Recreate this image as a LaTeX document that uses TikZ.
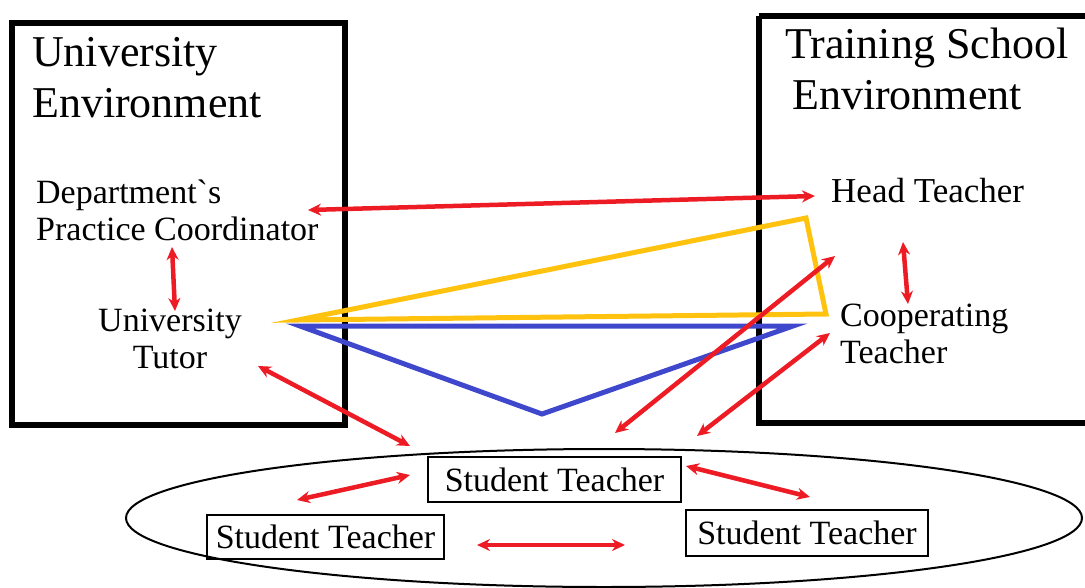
\documentclass[tikz,border=0pt]{standalone}
\usepackage{fontspec}
\setmainfont{Liberation Serif}
\newfontfamily\plainserif[Ligatures=TeXOff]{Liberation Serif}
\usetikzlibrary{arrows.meta}
\definecolor{arrred}{RGB}{237,28,36}
\definecolor{triyel}{RGB}{255,194,14}
\definecolor{triblu}{RGB}{63,72,204}
\begin{document}
\begin{tikzpicture}[x=1pt,y=-1pt,
  envbox/.style={draw=black,line width=6pt},
  bigtxt/.style={anchor=base west,align=left,inner sep=0pt,font=\fontsize{44}{51}\selectfont},
  roletxt/.style={inner sep=0pt,font=\fontsize{34}{37}\selectfont},
  stbox/.style={draw=black,line width=2pt,inner sep=0pt,font=\fontsize{34}{38}\selectfont},
  link/.style={draw=arrred,line width=4.5pt,{Stealth[length=13pt,width=12pt]}-{Stealth[length=13pt,width=12pt]}},
  tri/.style={line width=5pt,line join=miter,miter limit=40}]
\useasboundingbox (0,0) rectangle (1085,587);
% environment boxes
\draw[envbox] (12,23) rectangle (345,425);
\draw[envbox] (759,16) -- (1095,16) (759,16) -- (759,423) -- (1095,423);
\node[bigtxt] (uenv) at (32,117) {University\\Environment};
\node[bigtxt] (tenv) at (785,109) {Training School\\\hspace*{7pt}Environment};
% roles
\node[roletxt,anchor=base west,align=left] (dpc) at (36,240) {{\plainserif Department`s}\\Practice Coordinator};
\node[roletxt,anchor=base,align=center] (ut) at (170,368) {University\\Tutor};
\node[roletxt,anchor=base west,font=\fontsize{35}{40}\selectfont] (ht) at (831,202) {Head Teacher};
\node[roletxt,anchor=base west,align=left] (ct) at (840,363) {Cooperating\\Teacher};
% triangles
\draw[tri,triyel] (298,320) -- (806,218) -- (826,314) -- cycle;
\draw[tri,triblu] (300,326) -- (793,326) -- (542,414) -- cycle;
% ellipse and students
\draw[line width=2pt] (604,518) ellipse [x radius=478, y radius=69];
\node[stbox,minimum width=253pt,minimum height=45pt] (st1) at (554.5,479.5) {Student Teacher};
\node[stbox,minimum width=237pt,minimum height=44pt] (st2) at (325.5,537) {Student Teacher};
\node[stbox,minimum width=242pt,minimum height=46pt] (st3) at (807,533) {Student Teacher};
% arrow end points
\coordinate (a1s) at (308,210); \coordinate (a1e) at (815,196);
\coordinate (a2s) at (172,247); \coordinate (a2e) at (175,311);
\coordinate (a3s) at (903,242); \coordinate (a3e) at (908,304);
\coordinate (a4s) at (258,366); \coordinate (a4e) at (410,446);
\coordinate (a5s) at (615,433); \coordinate (a5e) at (835,256);
\coordinate (a6s) at (697,436); \coordinate (a6e) at (830,333);
\coordinate (a7s) at (297,500); \coordinate (a7e) at (410,475);
\coordinate (a8s) at (686,466); \coordinate (a8e) at (810,497);
\coordinate (a9s) at (477,545); \coordinate (a9e) at (625,545);
\foreach \i in {1,...,9} {\draw[link] (a\i s) -- (a\i e);}
\end{tikzpicture}
\end{document}
